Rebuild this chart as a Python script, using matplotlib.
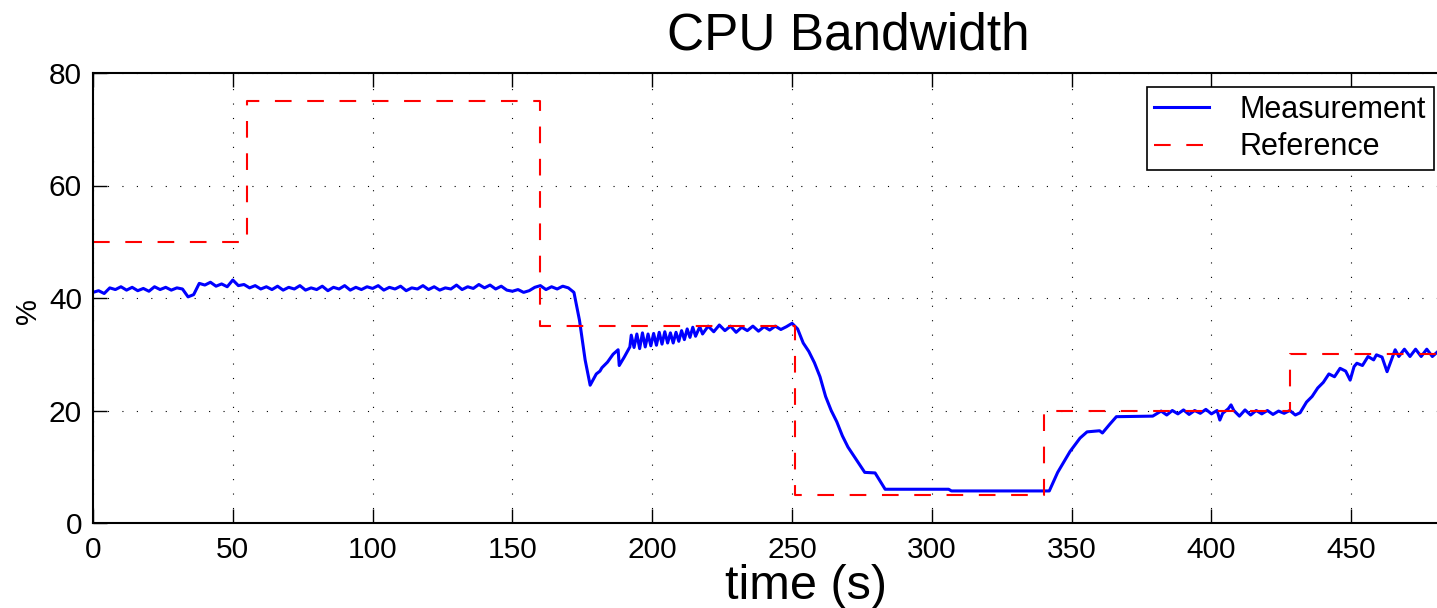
import matplotlib
matplotlib.use('Agg')
import matplotlib.pyplot as plt

plt.rcParams['font.family'] = ['Liberation Sans', 'DejaVu Sans']

# reference set points (step changes)
ref_t = [0, 55, 160, 251, 340, 428, 486]
ref_v = [50, 75, 35, 5, 20, 30, 30]

meas_t = [0, 2, 4, 6, 8, 10, 12, 14, 16, 18, 20, 22, 24, 26, 28, 30, 32, 34, 36, 38,
          40, 42, 44, 46, 48, 50, 52, 54, 56, 58, 60, 62, 64, 66, 68, 70, 72, 74, 76, 78,
          80, 82, 84, 86, 88, 90, 92, 94, 96, 98, 100, 102, 104, 106, 108, 110, 112, 114,
          116, 118, 120, 122, 124, 126, 128, 130, 132, 134, 136, 138, 140, 142, 144, 146,
          148, 150, 152, 154, 156, 158, 160, 162, 164, 166, 168, 170,
          172, 174, 176, 177.8, 180, 181.3, 182, 184, 186, 187.8, 188.2, 190, 192, 192.5,
          193.5, 194.5, 195.5, 196.5, 197.5, 198.5, 199.5, 200.5, 201.5, 202.5, 203.5,
          204.5, 205.5, 206.5, 207.5, 208.5, 209.5, 210.5, 211.5, 212.5, 213.5, 214.5,
          215.5, 217, 218, 220, 222, 224, 226, 228, 230, 232, 234, 236, 238, 240,
          242, 244, 246, 248, 250, 252, 254, 256, 258, 260, 262, 264, 266, 268, 270, 272,
          274, 276, 279.7, 283.3, 306, 307, 342, 345, 349.4, 353, 355.5, 360, 361, 363.7,
          366, 379, 380, 382, 384, 386, 388, 390, 392, 394, 396, 398, 400, 402, 403, 404,
          406, 407, 408, 410, 412, 414, 416, 418, 420, 422, 424, 426, 428, 430, 431.7,
          434, 436, 438, 440, 442, 444, 446, 448, 449.6, 451, 452, 454, 456, 458, 459,
          461, 462.8, 464, 465.7, 467, 469, 471, 473, 475, 477, 479, 481]
meas_v = [41.0, 41.3, 40.8, 41.8, 41.5, 42.0, 41.4, 41.9, 41.3, 41.7, 41.2, 42.0, 41.5, 41.9,
          41.4, 41.8, 41.6, 40.2, 40.6, 42.6, 42.3, 42.8, 42.1, 42.5, 42.0, 43.2, 42.2, 42.4,
          41.8, 42.2, 41.6, 42.0, 41.5, 42.1, 41.4, 41.9, 41.6, 42.2, 41.4, 41.8, 41.5, 42.1,
          41.3, 41.9, 41.6, 42.2, 41.4, 41.9, 41.5, 42.0, 41.7, 42.2, 41.4, 41.9, 41.6, 42.1,
          41.3, 41.8, 41.6, 42.2, 41.5, 42.0, 41.4, 41.8, 41.6, 42.3, 41.5, 42.0, 41.7, 42.4,
          41.8, 42.3, 41.6, 42.1, 41.4, 41.2, 41.5, 41.0, 41.3, 41.9, 42.2, 41.5, 42.0, 41.6,
          42.1, 41.8,
          41.0, 36.0, 29.0, 24.5, 26.5, 27.0, 27.6, 28.6, 30.0, 30.8, 28.0, 29.5, 31.3, 33.4,
          31.2, 33.6, 31.0, 33.8, 31.3, 33.6, 31.5, 33.7, 31.6, 33.9, 31.8, 34.0, 32.0, 33.8,
          32.0, 33.9, 32.3, 34.2, 32.6, 34.5, 33.0, 34.8, 33.2, 34.9, 33.6, 35.0, 34.0, 35.2,
          34.2, 35.0, 33.9, 34.8, 34.2, 35.0, 34.1, 34.9, 34.3, 35.0, 34.4, 34.9, 35.5, 34.5,
          32.0, 30.5, 28.5, 26.0, 22.5, 20.0, 18.0, 15.5, 13.5, 12.0, 10.5, 9.0, 8.9, 6.0,
          6.0, 5.7, 5.7, 9.0, 12.7, 15.1, 16.2, 16.4, 16.0, 17.6, 18.9, 19.0, 19.3, 19.9,
          19.2, 20.0, 19.4, 20.1, 19.3, 20.0, 19.5, 20.2, 19.4, 20.0, 18.3, 19.5, 20.3, 21.0,
          20.0, 19.0, 20.1, 19.2, 20.0, 19.4, 20.0, 19.3, 19.9, 19.5, 20.0, 19.2, 19.6, 21.5,
          22.5, 24.0, 25.0, 26.5, 26.0, 27.5, 27.0, 25.4, 27.8, 28.4, 28.0, 29.6, 29.0, 29.9,
          29.5, 26.9, 28.5, 30.8, 29.6, 30.9, 29.6, 30.9, 29.6, 30.9, 29.6, 30.5]

fig = plt.figure(figsize=(14.37, 6.08), dpi=100)
ax = fig.add_axes([93 / 1437, 85 / 608, 1.01 - 93 / 1437, 450 / 608])

ax.plot(meas_t, meas_v, color='blue', lw=2.2, label='Measurement')
ax.step(ref_t, ref_v, where='post', color='red', lw=1.5, dashes=(8, 7.5), label='Reference')

ax.set_xlim(0, 485.8)
ax.set_ylim(0, 80)
ax.set_xticks(range(0, 451, 50))
ax.set_yticks(range(0, 81, 20))
ax.grid(True, color='black', lw=0.8, linestyle=(0, (1, 12)))
ax.tick_params(direction='in', length=10, width=1, labelsize=21.5, top=True, right=True)
ax.tick_params(axis='x', pad=9)
ax.tick_params(axis='y', pad=8)
for s in ax.spines.values():
    s.set_linewidth(1.5)

fig.text(848 / 1437, 1 - 50 / 608, 'CPU Bandwidth', fontsize=37, ha='center', va='baseline')
fig.text(806 / 1437, 9 / 608, 'time (s)', fontsize=35, ha='center', va='baseline')
fig.text(28 / 1437, 297 / 608, '%', fontsize=21, rotation=90, ha='center', va='center')

leg = ax.legend(loc='upper right', bbox_to_anchor=(1434 / 1437, 1 - 87 / 608),
                bbox_transform=fig.transFigure, fontsize=22, fancybox=False,
                framealpha=1, edgecolor='black', handlelength=1.8, borderpad=0.25,
                labelspacing=0.25, handletextpad=1.0, borderaxespad=0)
leg.get_frame().set_linewidth(1.2)

fig.savefig('out.png', dpi=100)
